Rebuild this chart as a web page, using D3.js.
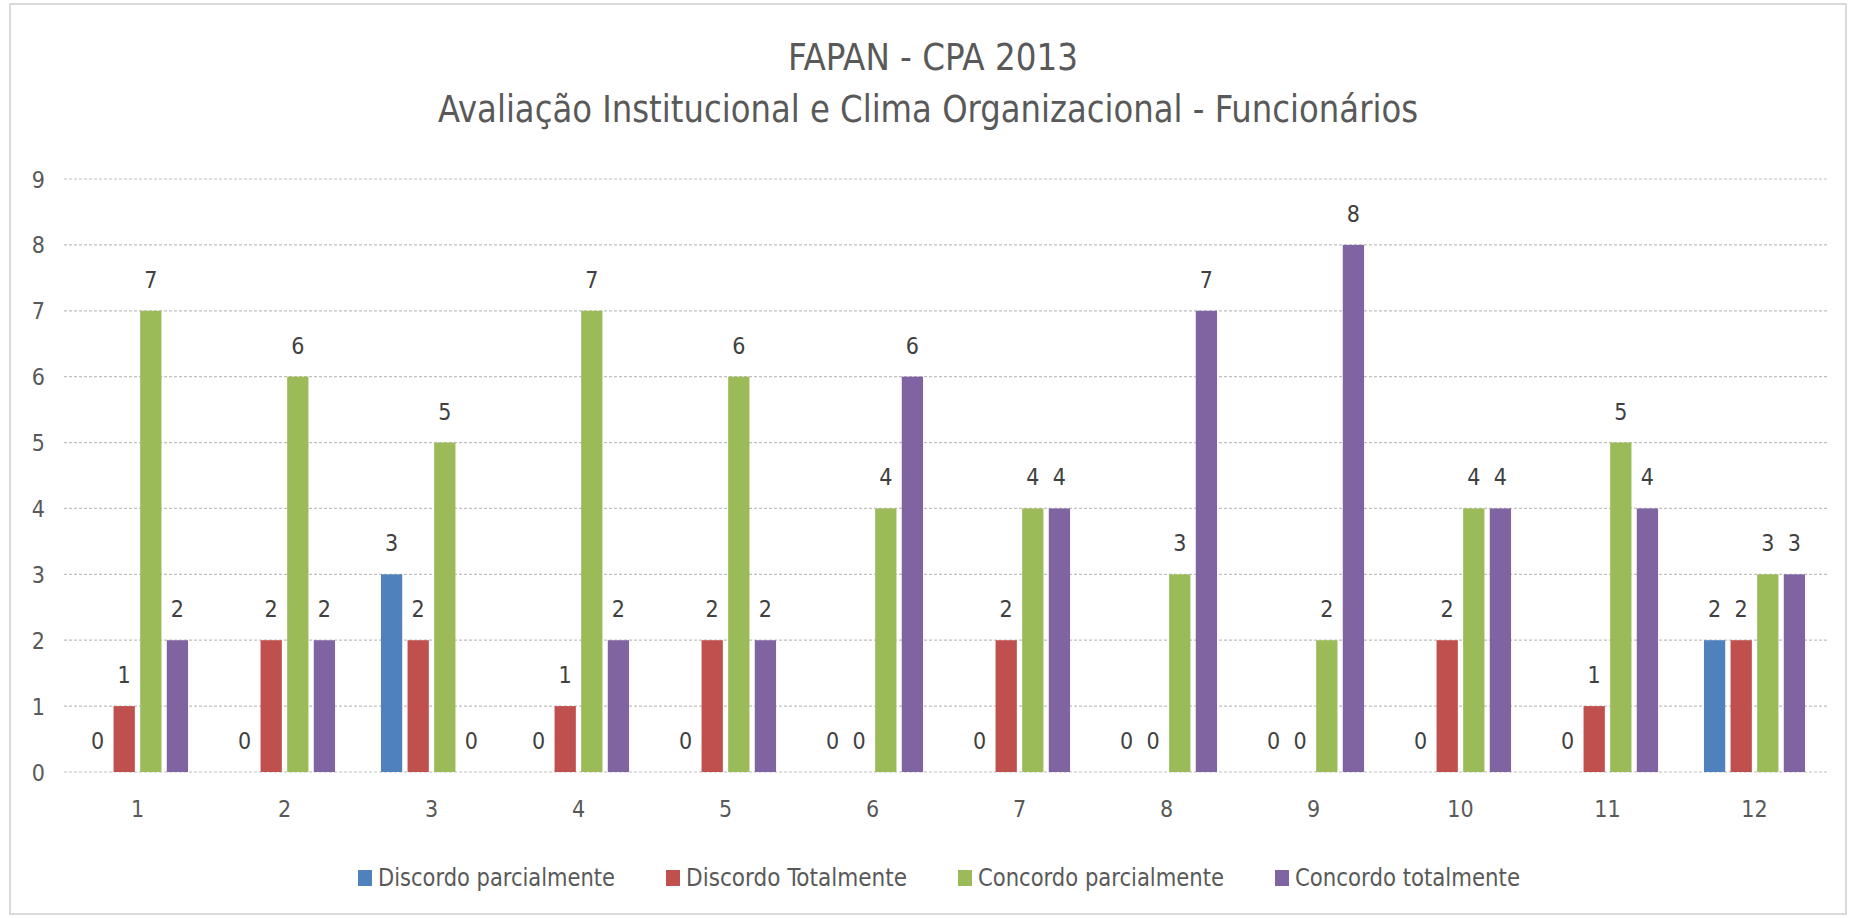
<!DOCTYPE html>
<html>
<head>
<meta charset="utf-8">
<script src="https://cdn.jsdelivr.net/npm/d3@7"></script>
<style>
  html, body { margin: 0; padding: 0; background: #fff; }
  svg text { font-family: "Liberation Sans Narrow", "DejaVu Sans Condensed", sans-serif; }
</style>
</head>
<body>
<div class="chart"></div>
<script>
// dados do grafico
const categorias = ["1", "2", "3", "4", "5", "6", "7", "8", "9", "10", "11", "12"];
const series = ["Discordo parcialmente", "Discordo Totalmente", "Concordo parcialmente", "Concordo totalmente"];
const discordoParcial = [0, 0, 3, 0, 0, 0, 0, 0, 0, 0, 0, 2];
const discordoTotal = [1, 2, 2, 1, 2, 0, 2, 0, 0, 2, 1, 2];
const concordoParcial = [7, 6, 5, 7, 6, 4, 4, 3, 2, 4, 5, 3];
const concordoTotal = [2, 2, 0, 2, 2, 6, 4, 7, 8, 4, 4, 3];
const yTicks = [0, 1, 2, 3, 4, 5, 6, 7, 8, 9];
const cores = ["#4F81BD", "#C0504D", "#9BBB59", "#8064A2"];

const width = 1856;
const height = 918;

const svg = d3.select(".chart")
  .append("svg")
  .attr("width", width)
  .attr("height", height);

// borda do grafico
svg.append("rect")
  .attr("x", 10).attr("y", 4)
  .attr("width", 1836).attr("height", 910)
  .attr("fill", "#fff")
  .attr("stroke", "#d9d9d9")
  .attr("stroke-width", 2);

// titulos
svg.append("text")
  .attr("x", 933).attr("y", 70)
  .attr("text-anchor", "middle")
  .attr("font-size", 37)
  .attr("fill", "#595959")
  .attr("textLength", 290)
  .attr("lengthAdjust", "spacingAndGlyphs")
  .text("FAPAN - CPA 2013");

svg.append("text")
  .attr("x", 928).attr("y", 122)
  .attr("text-anchor", "middle")
  .attr("font-size", 37)
  .attr("fill", "#595959")
  .attr("textLength", 980)
  .attr("lengthAdjust", "spacingAndGlyphs")
  .text("Avaliação Institucional e Clima Organizacional - Funcionários");

const x0 = d3.scaleBand()
  .domain(categorias)
  .range([64, 1828])
  .paddingInner(0.276)
  .paddingOuter(0.138);

const x1 = d3.scaleBand()
  .domain(series)
  .range([0, x0.bandwidth()])
  .paddingInner(0.2)
  .paddingOuter(0.1);

const y = d3.scaleLinear()
  .domain([0, 9])
  .range([772, 179]);

// grade
svg.selectAll(".grid-line")
  .data(yTicks)
  .enter()
  .append("line")
  .attr("class", "grid-line")
  .attr("x1", 64)
  .attr("x2", 1828)
  .attr("y1", d => y(d))
  .attr("y2", d => y(d))
  .attr("stroke", "#bfbfbf")
  .attr("stroke-width", 1.2)
  .attr("stroke-dasharray", "3,2");

// eixo y
const yAxis = svg.append("g")
  .attr("transform", "translate(45,0)")
  .call(d3.axisLeft(y).tickValues(yTicks).tickSize(0).tickPadding(0));
yAxis.select(".domain").remove();
yAxis.selectAll("text")
  .attr("font-size", 23)
  .attr("fill", "#595959")
  .attr("dy", "0.35em");

// eixo x
const xAxis = svg.append("g")
  .attr("transform", "translate(0,772)")
  .call(d3.axisBottom(x0).tickSize(0).tickPadding(29));
xAxis.select(".domain").remove();
xAxis.selectAll("text")
  .attr("font-size", 23)
  .attr("fill", "#595959");

const valores = [discordoParcial, discordoTotal, concordoParcial, concordoTotal];
const linhas = categorias.map((c, i) => ({
  cat: c,
  vals: series.map((s, j) => ({ serie: s, v: valores[j][i], cor: cores[j] }))
}));

const grupos = svg.selectAll(".grupo")
  .data(linhas)
  .enter()
  .append("g")
  .attr("class", "grupo")
  .attr("transform", d => `translate(${x0(d.cat)},0)`);

grupos.selectAll("rect")
  .data(d => d.vals)
  .enter()
  .append("rect")
  .attr("x", d => x1(d.serie))
  .attr("width", x1.bandwidth())
  .attr("y", d => y(d.v))
  .attr("height", d => y(0) - y(d.v))
  .attr("fill", d => d.cor);

// rotulos de dados
grupos.selectAll(".rotulo")
  .data(d => d.vals)
  .enter()
  .append("text")
  .attr("class", "rotulo")
  .attr("x", d => x1(d.serie) + x1.bandwidth() / 2)
  .attr("y", d => y(d.v) - 23)
  .attr("text-anchor", "middle")
  .attr("font-size", 23)
  .attr("fill", "#404040")
  .text(d => d.v);

// legenda
const legendaX = [358, 666, 958, 1275];
const legendaW = [237, 221, 246, 225];
const legenda = svg.selectAll(".legenda")
  .data(series)
  .enter()
  .append("g")
  .attr("class", "legenda")
  .attr("transform", (d, i) => `translate(${legendaX[i]},870)`);

legenda.append("rect")
  .attr("width", 14)
  .attr("height", 16)
  .attr("fill", (d, i) => cores[i]);

legenda.append("text")
  .attr("x", 20)
  .attr("y", 16)
  .attr("font-size", 24)
  .attr("fill", "#595959")
  .attr("textLength", (d, i) => legendaW[i])
  .attr("lengthAdjust", "spacingAndGlyphs")
  .text(d => d);
</script>
</body>
</html>
